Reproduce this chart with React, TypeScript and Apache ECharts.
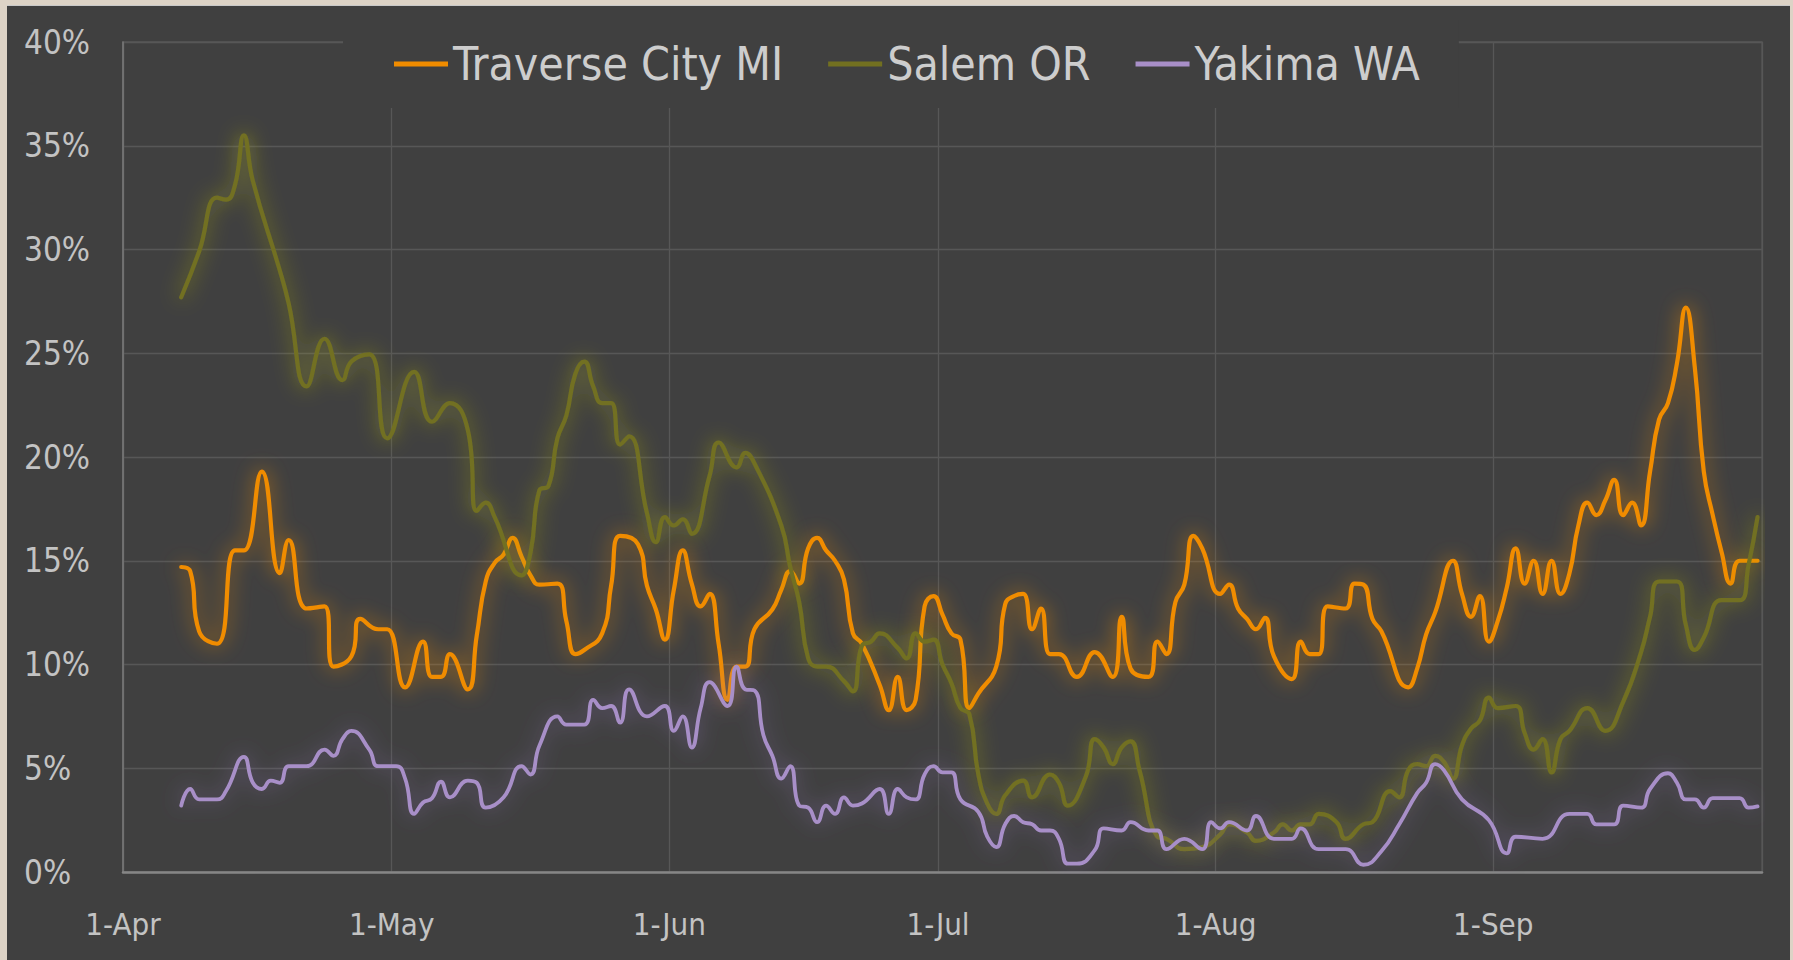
import React, { useEffect, useRef } from "react";
import * as echarts from "echarts";

const MONTHS = ["Jan", "Feb", "Mar", "Apr", "May", "Jun", "Jul", "Aug", "Sep", "Oct", "Nov", "Dec"];
const SERIES_NAMES = ["Traverse City MI", "Salem OR", "Yakima WA"];
const X_MIN = "2020-04-01";
const X_MAX = "2020-10-01";
const Y_MIN = 0;
const Y_MAX = 40;
const Y_STEP = 5;

const traverseCity: [string, number][] = [
  ["2020-04-07", 14.7], ["2020-04-08", 14.5], ["2020-04-09", 11.6], ["2020-04-11", 11.0],
  ["2020-04-13", 15.5], ["2020-04-14", 15.5], ["2020-04-16", 19.3], ["2020-04-18", 14.4],
  ["2020-04-19", 16.0], ["2020-04-21", 12.7], ["2020-04-23", 12.8], ["2020-04-24", 9.9],
  ["2020-04-26", 10.4], ["2020-04-27", 12.2], ["2020-04-29", 11.7], ["2020-04-30", 11.7],
  ["2020-05-02", 8.9], ["2020-05-04", 11.1], ["2020-05-05", 9.4], ["2020-05-06", 9.4],
  ["2020-05-07", 10.5], ["2020-05-09", 8.8], ["2020-05-10", 11.4], ["2020-05-11", 14.0],
  ["2020-05-12", 14.9], ["2020-05-13", 15.3], ["2020-05-14", 16.1], ["2020-05-15", 15.2],
  ["2020-05-16", 14.3], ["2020-05-17", 13.85], ["2020-05-19", 13.9], ["2020-05-20", 12.1],
  ["2020-05-21", 10.5], ["2020-05-22", 10.7], ["2020-05-24", 11.5], ["2020-05-25", 13.8],
  ["2020-05-26", 16.2], ["2020-05-28", 15.8], ["2020-05-29", 13.8], ["2020-05-30", 12.65],
  ["2020-05-31", 11.2], ["2020-06-01", 13.6], ["2020-06-02", 15.5], ["2020-06-03", 13.9],
  ["2020-06-04", 12.8], ["2020-06-05", 13.4], ["2020-06-06", 11.0], ["2020-06-07", 8.3],
  ["2020-06-08", 9.9], ["2020-06-09", 9.9], ["2020-06-10", 11.7], ["2020-06-12", 12.65],
  ["2020-06-13", 13.6], ["2020-06-14", 14.5], ["2020-06-15", 13.9], ["2020-06-16", 15.6],
  ["2020-06-17", 16.1], ["2020-06-18", 15.5], ["2020-06-19", 15.0], ["2020-06-20", 14.1],
  ["2020-06-21", 11.5], ["2020-06-22", 11.0], ["2020-06-24", 9.0], ["2020-06-25", 7.8],
  ["2020-06-26", 9.4], ["2020-06-27", 7.8], ["2020-06-28", 8.3], ["2020-06-29", 12.8],
  ["2020-06-30", 13.3], ["2020-07-01", 12.4], ["2020-07-02", 11.5], ["2020-07-03", 11.2],
  ["2020-07-04", 7.9], ["2020-07-05", 8.6], ["2020-07-07", 9.9], ["2020-07-08", 12.9],
  ["2020-07-09", 13.3], ["2020-07-10", 13.4], ["2020-07-11", 11.7], ["2020-07-12", 12.7],
  ["2020-07-13", 10.5], ["2020-07-14", 10.5], ["2020-07-16", 9.4], ["2020-07-18", 10.6],
  ["2020-07-20", 9.4], ["2020-07-21", 12.3], ["2020-07-22", 9.8], ["2020-07-24", 9.4],
  ["2020-07-25", 11.1], ["2020-07-26", 10.5], ["2020-07-27", 13.0], ["2020-07-28", 13.85],
  ["2020-07-29", 16.2], ["2020-07-30", 15.6], ["2020-08-01", 13.4], ["2020-08-02", 13.85],
  ["2020-08-03", 12.7], ["2020-08-04", 12.2], ["2020-08-05", 11.7], ["2020-08-06", 12.25],
  ["2020-08-07", 10.4], ["2020-08-09", 9.3], ["2020-08-10", 11.1], ["2020-08-11", 10.5],
  ["2020-08-12", 10.5], ["2020-08-13", 12.8], ["2020-08-15", 12.7], ["2020-08-16", 13.9],
  ["2020-08-17", 13.85], ["2020-08-18", 12.2], ["2020-08-19", 11.6], ["2020-08-22", 8.9],
  ["2020-08-23", 9.8], ["2020-08-24", 11.45], ["2020-08-25", 12.5], ["2020-08-27", 15.0],
  ["2020-08-28", 13.4], ["2020-08-29", 12.3], ["2020-08-30", 13.3], ["2020-08-31", 11.1],
  ["2020-09-01", 12.1], ["2020-09-02", 13.7], ["2020-09-03", 15.6], ["2020-09-04", 13.9],
  ["2020-09-05", 15.0], ["2020-09-06", 13.4], ["2020-09-07", 15.0], ["2020-09-08", 13.4],
  ["2020-09-09", 14.4], ["2020-09-10", 16.7], ["2020-09-11", 17.8], ["2020-09-12", 17.2],
  ["2020-09-13", 17.9], ["2020-09-14", 18.9], ["2020-09-15", 17.2], ["2020-09-16", 17.8],
  ["2020-09-17", 16.7], ["2020-09-18", 19.3], ["2020-09-19", 21.8], ["2020-09-20", 22.6],
  ["2020-09-21", 24.5], ["2020-09-22", 27.2], ["2020-09-23", 24.3], ["2020-09-24", 19.3],
  ["2020-09-25", 17.2], ["2020-09-26", 15.4], ["2020-09-27", 13.9], ["2020-09-28", 15.0],
  ["2020-09-30", 15.0],
];

const salem: [string, number][] = [
  ["2020-04-07", 27.7], ["2020-04-09", 29.9], ["2020-04-11", 32.5], ["2020-04-12", 32.4],
  ["2020-04-13", 33.1], ["2020-04-14", 35.5], ["2020-04-15", 33.3], ["2020-04-18", 29.0],
  ["2020-04-19", 27.4], ["2020-04-21", 23.4], ["2020-04-23", 25.7], ["2020-04-25", 23.7],
  ["2020-04-26", 24.6], ["2020-04-28", 24.95], ["2020-04-30", 20.9], ["2020-05-03", 24.1],
  ["2020-05-05", 21.7], ["2020-05-07", 22.6], ["2020-05-09", 21.3], ["2020-05-10", 17.4],
  ["2020-05-11", 17.8], ["2020-05-12", 17.1], ["2020-05-15", 14.3], ["2020-05-16", 15.4],
  ["2020-05-17", 18.4], ["2020-05-18", 18.6], ["2020-05-19", 20.9], ["2020-05-20", 22.0],
  ["2020-05-21", 24.0], ["2020-05-22", 24.6], ["2020-05-23", 23.4], ["2020-05-24", 22.6],
  ["2020-05-25", 22.6], ["2020-05-26", 20.6], ["2020-05-27", 21.0], ["2020-05-29", 17.3],
  ["2020-05-30", 15.9], ["2020-05-31", 17.1], ["2020-06-01", 16.7], ["2020-06-02", 17.0],
  ["2020-06-03", 16.3], ["2020-06-05", 19.1], ["2020-06-06", 20.7], ["2020-06-08", 19.5],
  ["2020-06-09", 20.2], ["2020-06-10", 19.7], ["2020-06-13", 16.7], ["2020-06-14", 14.7],
  ["2020-06-15", 13.0], ["2020-06-16", 10.3], ["2020-06-17", 9.9], ["2020-06-18", 9.9],
  ["2020-06-20", 9.2], ["2020-06-21", 8.7], ["2020-06-22", 10.9], ["2020-06-23", 11.1],
  ["2020-06-24", 11.5], ["2020-06-26", 10.8], ["2020-06-27", 10.3], ["2020-06-28", 11.5],
  ["2020-06-29", 11.1], ["2020-06-30", 11.2], ["2020-07-01", 10.0], ["2020-07-02", 9.1],
  ["2020-07-03", 7.9], ["2020-07-04", 7.6], ["2020-07-05", 4.7], ["2020-07-06", 3.3],
  ["2020-07-07", 2.8], ["2020-07-08", 3.7], ["2020-07-10", 4.4], ["2020-07-11", 3.6],
  ["2020-07-13", 4.7], ["2020-07-14", 4.3], ["2020-07-15", 3.2], ["2020-07-17", 4.6],
  ["2020-07-18", 6.4], ["2020-07-19", 6.0], ["2020-07-20", 5.2], ["2020-07-21", 6.0],
  ["2020-07-22", 6.3], ["2020-07-23", 4.9], ["2020-07-25", 1.7], ["2020-07-26", 1.6],
  ["2020-07-28", 1.1], ["2020-07-30", 1.2], ["2020-08-01", 1.8], ["2020-08-02", 2.3],
  ["2020-08-04", 1.9], ["2020-08-05", 1.5], ["2020-08-07", 1.9], ["2020-08-08", 2.3],
  ["2020-08-09", 2.0], ["2020-08-10", 2.3], ["2020-08-11", 2.3], ["2020-08-12", 2.8],
  ["2020-08-14", 2.4], ["2020-08-15", 1.6], ["2020-08-17", 2.3], ["2020-08-18", 2.4],
  ["2020-08-20", 3.9], ["2020-08-21", 3.6], ["2020-08-22", 4.9], ["2020-08-23", 5.2],
  ["2020-08-24", 5.1], ["2020-08-25", 5.6], ["2020-08-26", 5.3], ["2020-08-27", 4.5],
  ["2020-08-28", 6.1], ["2020-08-29", 6.9], ["2020-08-30", 7.3], ["2020-08-31", 8.4],
  ["2020-09-01", 7.9], ["2020-09-03", 8.0], ["2020-09-04", 6.7], ["2020-09-05", 5.9],
  ["2020-09-06", 6.4], ["2020-09-07", 4.8], ["2020-09-08", 6.4], ["2020-09-09", 6.8],
  ["2020-09-11", 7.9], ["2020-09-13", 6.8], ["2020-09-15", 8.2], ["2020-09-17", 10.6],
  ["2020-09-18", 12.3], ["2020-09-19", 14.0], ["2020-09-21", 14.0], ["2020-09-22", 11.9],
  ["2020-09-23", 10.7], ["2020-09-24", 11.3], ["2020-09-26", 13.1], ["2020-09-28", 13.1],
  ["2020-09-29", 14.8], ["2020-09-30", 17.1],
];

const yakima: [string, number][] = [
  ["2020-04-07", 3.2], ["2020-04-08", 4.0], ["2020-04-09", 3.5], ["2020-04-11", 3.5],
  ["2020-04-12", 3.9], ["2020-04-14", 5.55], ["2020-04-15", 4.3], ["2020-04-16", 4.0],
  ["2020-04-17", 4.4], ["2020-04-18", 4.3], ["2020-04-19", 5.1], ["2020-04-21", 5.1],
  ["2020-04-23", 5.9], ["2020-04-24", 5.6], ["2020-04-25", 6.4], ["2020-04-26", 6.8],
  ["2020-04-28", 5.9], ["2020-04-29", 5.1], ["2020-05-01", 5.1], ["2020-05-02", 4.5],
  ["2020-05-03", 2.8], ["2020-05-04", 3.35], ["2020-05-05", 3.55], ["2020-05-06", 4.35],
  ["2020-05-07", 3.6], ["2020-05-09", 4.4], ["2020-05-10", 4.3], ["2020-05-11", 3.1],
  ["2020-05-13", 3.6], ["2020-05-15", 5.1], ["2020-05-16", 4.7], ["2020-05-17", 6.1],
  ["2020-05-19", 7.5], ["2020-05-20", 7.1], ["2020-05-22", 7.1], ["2020-05-23", 8.3],
  ["2020-05-24", 7.9], ["2020-05-25", 8.0], ["2020-05-26", 7.2], ["2020-05-27", 8.8],
  ["2020-05-29", 7.5], ["2020-05-31", 8.0], ["2020-06-01", 6.8], ["2020-06-02", 7.5],
  ["2020-06-03", 6.0], ["2020-06-04", 7.9], ["2020-06-05", 9.15], ["2020-06-07", 8.0],
  ["2020-06-08", 9.9], ["2020-06-09", 8.8], ["2020-06-10", 8.75], ["2020-06-11", 6.6],
  ["2020-06-12", 5.6], ["2020-06-13", 4.5], ["2020-06-14", 5.1], ["2020-06-15", 3.2],
  ["2020-06-16", 3.1], ["2020-06-17", 2.4], ["2020-06-18", 3.2], ["2020-06-19", 2.8],
  ["2020-06-20", 3.6], ["2020-06-21", 3.2], ["2020-06-22", 3.3], ["2020-06-24", 4.0],
  ["2020-06-25", 2.8], ["2020-06-26", 4.0], ["2020-06-27", 3.6], ["2020-06-28", 3.5],
  ["2020-06-29", 4.7], ["2020-06-30", 5.1], ["2020-07-01", 4.8], ["2020-07-02", 4.8],
  ["2020-07-03", 3.5], ["2020-07-05", 2.9], ["2020-07-06", 1.7], ["2020-07-07", 1.2],
  ["2020-07-08", 2.3], ["2020-07-09", 2.7], ["2020-07-10", 2.4], ["2020-07-11", 2.3],
  ["2020-07-12", 2.0], ["2020-07-13", 2.0], ["2020-07-14", 1.6], ["2020-07-15", 0.4],
  ["2020-07-16", 0.4], ["2020-07-18", 1.05], ["2020-07-19", 2.1], ["2020-07-21", 2.0],
  ["2020-07-22", 2.4], ["2020-07-24", 2.0], ["2020-07-25", 2.0], ["2020-07-26", 1.1],
  ["2020-07-28", 1.6], ["2020-07-30", 1.1], ["2020-07-31", 2.4], ["2020-08-01", 2.1],
  ["2020-08-02", 2.4], ["2020-08-04", 2.0], ["2020-08-05", 2.7], ["2020-08-07", 1.6],
  ["2020-08-09", 1.6], ["2020-08-10", 2.1], ["2020-08-12", 1.1], ["2020-08-15", 1.1],
  ["2020-08-17", 0.35], ["2020-08-19", 1.0], ["2020-08-21", 2.3], ["2020-08-23", 3.8],
  ["2020-08-24", 4.3], ["2020-08-25", 5.2], ["2020-08-26", 4.9], ["2020-08-28", 3.5],
  ["2020-08-31", 2.5], ["2020-09-02", 0.9], ["2020-09-03", 1.7], ["2020-09-06", 1.6],
  ["2020-09-09", 2.8], ["2020-09-11", 2.8], ["2020-09-12", 2.3], ["2020-09-14", 2.3],
  ["2020-09-15", 3.2], ["2020-09-17", 3.1], ["2020-09-18", 4.0], ["2020-09-20", 4.76],
  ["2020-09-21", 4.3], ["2020-09-22", 3.5], ["2020-09-23", 3.5], ["2020-09-24", 3.1],
  ["2020-09-25", 3.56], ["2020-09-28", 3.56], ["2020-09-29", 3.1], ["2020-09-30", 3.16],
];

const COLORS = ["#F08C00", "#727020", "#A88FC8"];
const GLOWS = ["rgba(240,140,0,0.8)", "rgba(165,165,30,0.85)", "rgba(150,120,200,0.55)"];

const FONT = '"Liberation Sans Narrow", "Arial Narrow", "DejaVu Sans Condensed", sans-serif';

export default function App() {
  const ref = useRef<HTMLDivElement>(null);

  useEffect(() => {
    if (!ref.current) return;
    const chart = echarts.init(ref.current, null, { renderer: "svg" });
    const datasets = [traverseCity, salem, yakima];
    const series = datasets.map((data, i) => ({
      name: SERIES_NAMES[i],
      type: "line",
      data: data.map(([d, v]) => [d + "T12:00", v]),
      smooth: 0.5,
      symbol: "none",
      showSymbol: false,
      itemStyle: { color: COLORS[i] },
      lineStyle: {
        color: COLORS[i],
        width: i === 2 ? 3.8 : 4.2,
        cap: "round",
        join: "round",
        shadowBlur: 20,
        shadowColor: GLOWS[i],
      },
      emphasis: { disabled: true },
    }));

    chart.setOption({
      animation: false,
      backgroundColor: "transparent",
      textStyle: { fontFamily: FONT },
      grid: {
        left: 123,
        top: 42,
        right: 31,
        bottom: 88,
        show: true,
        borderColor: "#575757",
        borderWidth: 1.3,
        backgroundColor: "transparent",
      },
      legend: {
        data: SERIES_NAMES,
        left: 343,
        top: 20,
        padding: [21, 39, 21, 51],
        backgroundColor: "#404040",
        itemGap: 45,
        itemWidth: 54,
        itemHeight: 5,
        icon: "rect",
        selectedMode: false,
        textStyle: { color: "#cdcdcd", fontSize: 46, fontFamily: FONT },
      },
      xAxis: {
        type: "time",
        min: X_MIN,
        max: X_MAX,
        splitNumber: 6,
        minInterval: 28 * 86400000,
        axisLine: { show: true, lineStyle: { color: "#868686", width: 2.5 } },
        axisTick: { show: false },
        splitLine: { show: true, lineStyle: { color: "#575757", width: 1.3 } },
        axisLabel: {
          color: "#c3c3c3",
          fontSize: 31,
          fontFamily: FONT,
          margin: 36,
          showMaxLabel: false,
          hideOverlap: false,
          formatter: (value: number) => {
            const d = new Date(value);
            return `${d.getDate()}-${MONTHS[d.getMonth()]}`;
          },
        },
      },
      yAxis: {
        type: "value",
        min: Y_MIN,
        max: Y_MAX,
        interval: Y_STEP,
        axisLine: { show: true, lineStyle: { color: "#7a7a7a", width: 1.5 } },
        axisTick: { show: false },
        splitLine: { show: true, lineStyle: { color: "#575757", width: 1.3 } },
        axisLabel: {
          color: "#c3c3c3",
          fontSize: 33,
          fontFamily: FONT,
          align: "left",
          margin: 99,
          formatter: "{value}%",
        },
      },
      series,
    });

    return () => chart.dispose();
  }, []);

  return (
    <div
      style={{
        position: "fixed",
        left: 0,
        top: 0,
        width: 1793,
        height: 960,
        background: "#DDD3C6",
        overflow: "hidden",
      }}
    >
      <div
        style={{
          position: "absolute",
          left: 7,
          top: 5,
          width: 1783,
          height: 955,
          background: "#404040",
          borderTop: "1px solid #c9c9c9",
          boxSizing: "border-box",
        }}
      />
      <div
        ref={ref}
        style={{ position: "absolute", left: 0, top: 0, width: 1793, height: 960 }}
      />
    </div>
  );
}
